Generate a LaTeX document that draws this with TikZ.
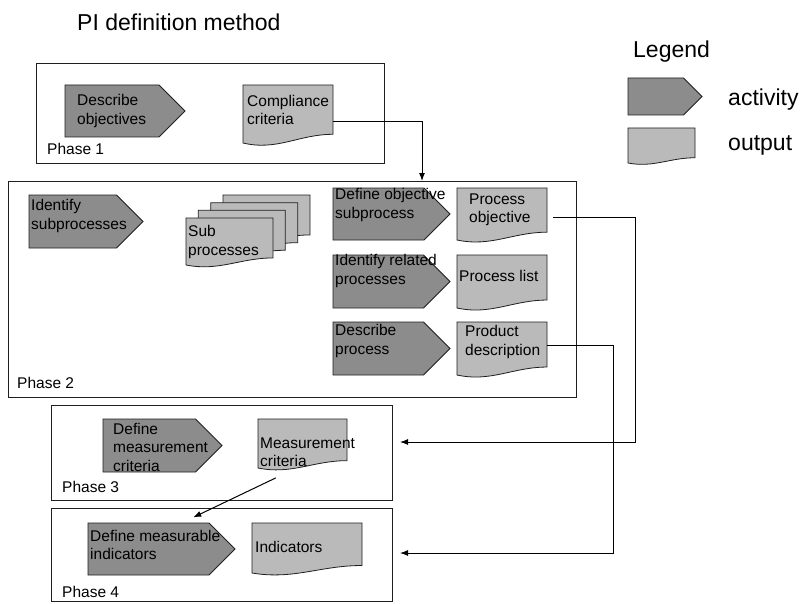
\documentclass[tikz,border=0pt]{standalone}
\usepackage{fontspec}
\setmainfont{Liberation Sans}
\usetikzlibrary{arrows.meta}
\definecolor{actfill}{gray}{0.55}
\definecolor{outfill}{gray}{0.73}
\definecolor{linecol}{gray}{0.12}
\tikzset{
  actshape/.style={fill=actfill, draw=linecol, line width=0.8pt},
  outshape/.style={fill=outfill, draw=linecol, line width=0.8pt},
  shapebox/.style={inner sep=0pt, outer sep=0pt, anchor=north west, draw=none},
  phasebox/.style={draw=linecol, line width=0.9pt, inner sep=0pt, outer sep=0pt, anchor=north west},
  boxtext/.style={font=\fontsize{15.5}{18.5}\selectfont, align=left, inner sep=0pt, anchor=west, text=black},
  phaselabel/.style={font=\fontsize{15.5}{18}\selectfont, anchor=base west, inner sep=0pt},
  bigtext/.style={font=\fontsize{23}{27}\selectfont, anchor=base west, inner sep=0pt},
  conn/.style={draw=black, line width=1pt},
  arr/.style={conn, -{Latex[length=8pt,width=6pt]}},
}
% activity: name, x1, y1, xtip, y2, text x, text y, text
\newcommand{\mkact}[8]{%
  \pgfmathsetmacro\hh{#5-#3}%
  \pgfmathsetmacro\xb{#4-\hh/2}%
  \pgfmathsetmacro\ym{(#3+#5)/2}%
  \pgfmathsetmacro\ww{#4-#2}%
  \filldraw[actshape] (#2,#3) -- (\xb,#3) -- (#4,\ym) -- (\xb,#5) -- (#2,#5) -- cycle;
  \node[shapebox, minimum width=\ww pt, minimum height=\hh pt] (#1) at (#2,#3) {};
  \node[boxtext] (#1-t) at (#6,#7) {#8};
}
% output: name, x1, y1, x2, y2 (left bottom), text x, text y, text
\newcommand{\mkout}[8]{%
  \pgfmathsetmacro\hh{#5-#3}%
  \pgfmathsetmacro\ww{#4-#2}%
  \pgfmathsetmacro\yr{#5-0.15*\hh}%
  \pgfmathsetmacro\ca{#2+0.62*\ww}%
  \pgfmathsetmacro\cb{#2+0.38*\ww}%
  \pgfmathsetmacro\cy{#5+0.14*\hh}%
  \filldraw[outshape] (#2,#3) -- (#4,#3) -- (#4,\yr) .. controls (\ca,\yr) and (\cb,\cy) .. (#2,#5) -- cycle;
  \node[shapebox, minimum width=\ww pt, minimum height=\hh pt] (#1) at (#2,#3) {};
  \node[boxtext] (#1-t) at (#6,#7) {#8};
}
\begin{document}
\begin{tikzpicture}[x=1pt,y=-1pt]
\fill[white] (0,0) rectangle (802,604);
\useasboundingbox (0,0) rectangle (802,604);

% title and legend
\node[bigtext] (title) at (77,31) {PI definition method};
\node[bigtext] (legend) at (633,58) {Legend};
\mkact{legact}{628}{78}{702}{115}{640}{96}{}
\node[bigtext] (legacttxt) at (728,106) {activity};
\mkout{legout}{628}{128}{695}{163}{640}{145}{}
\node[bigtext] (legouttxt) at (728,151) {output};

% Phase 1
\node[phasebox, minimum width=348pt, minimum height=100pt] (ph1) at (36,63) {};
\node[phaselabel] (ph1l) at (47,155) {Phase 1};
\mkact{dobj}{65}{85}{185}{137}{77}{111}{Describe\\objectives}
\mkout{cc}{243}{85}{333}{143}{247}{110}{Compliance\\criteria}

% Phase 2
\node[phasebox, minimum width=568pt, minimum height=216pt] (ph2) at (8,181) {};
\node[phaselabel] (ph2l) at (17,388) {Phase 2};
\mkact{isub}{29}{195}{143}{248}{31}{216}{Identify\\subprocesses}
\mkout{sp3}{223}{195}{310}{242}{0}{0}{}
\mkout{sp2}{210.7}{202.7}{297.7}{249.7}{0}{0}{}
\mkout{sp1}{198.3}{210.3}{285.3}{257.3}{0}{0}{}
\mkout{sp}{186}{218}{273}{265}{188}{242}{Sub\\processes}
\mkact{dos}{333}{188}{450}{240}{335}{205}{Define objective\\subprocess}
\mkout{po}{457}{188}{547}{240}{469}{210}{Process\\objective}
\mkact{irp}{333}{255}{450}{308}{335}{271}{Identify related\\processes}
\mkout{pl}{457}{255}{547}{308}{459}{276}{Process list}
\mkact{dp}{333}{322}{450}{375}{335}{341}{Describe\\process}
\mkout{pd}{457}{322}{547}{375}{465}{342}{Product\\description}

% Phase 3
\node[phasebox, minimum width=341pt, minimum height=95pt] (ph3) at (51,405) {};
\node[phaselabel] (ph3l) at (62,492) {Phase 3};
\mkact{dmc}{103}{419}{222}{472}{113}{447}{Define\\measurement\\criteria}
\mkout{mc}{258}{419}{347}{468}{260}{452}{Measurement\\criteria}

% Phase 4
\node[phasebox, minimum width=341pt, minimum height=93pt] (ph4) at (51,508) {};
\node[phaselabel] (ph4l) at (62,597) {Phase 4};
\mkact{dmi}{88}{523}{235}{575}{90}{545}{Define measurable\\indicators}
\mkout{ind}{252}{523}{362}{573}{255}{547}{Indicators}

% connectors
\draw[arr] ([yshift=-8pt]cc.east) -| ([xshift=414pt]ph2.north west);
\draw[arr, shorten <=6pt] ([yshift=-3pt]po.east) -- ++(88,0) |- ([xshift=8pt,yshift=10.5pt]ph3.east);
\draw[arr] ([yshift=3.5pt]pd.east) -- ++(66,0) |- ([xshift=8pt,yshift=1.5pt]ph4.east);
\draw[arr, shorten <=23pt, shorten >=13pt] ([xshift=-6pt]mc.south) -- ([xshift=20pt]dmi.north);
\end{tikzpicture}
\end{document}
